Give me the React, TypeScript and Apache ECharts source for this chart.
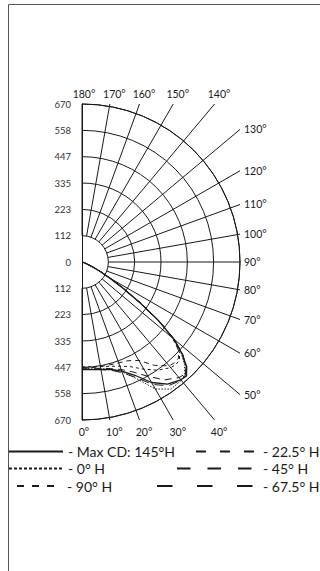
import { useEffect, useRef } from 'react';
import * as echarts from 'echarts';

// ---- data ----
const angleTicks = [0, 10, 20, 30, 40, 50, 60, 70, 80, 90, 100, 110, 120, 130, 140, 150, 160, 170, 180];
const radiusMax = 670;
const ringCount = 6;

const sampleAngles = [0, 5, 10, 15, 20, 25, 30, 35, 40, 42.5, 45, 47.5, 50, 52.5, 55, 57.5, 60, 62.5, 65, 70, 75, 80, 90];
const maxCd145 = [456, 458, 462, 472, 492, 530, 590, 632, 652, 656, 628, 575, 510, 410, 295, 200, 130, 85, 50, 15, 5, 1, 0];
const h0 = [452, 455, 460, 470, 495, 545, 622, 658, 655, 645, 615, 570, 505, 415, 300, 205, 135, 90, 55, 18, 5, 1, 0];
const h90 = [445, 446, 450, 458, 470, 490, 525, 560, 585, 590, 585, 560, 500, 410, 295, 205, 135, 88, 52, 16, 5, 1, 0];
const h22 = [450, 450, 450, 452, 455, 462, 482, 535, 575, 580, 578, 555, 505, 415, 300, 210, 140, 92, 55, 18, 6, 1, 0];
const h45 = [448, 452, 458, 468, 485, 515, 560, 610, 640, 645, 625, 580, 512, 420, 305, 212, 140, 92, 55, 18, 5, 1, 0];
const h67 = [454, 457, 463, 475, 500, 540, 600, 640, 655, 650, 622, 575, 508, 412, 298, 206, 136, 88, 52, 16, 5, 1, 0];

const seriesNames = ['Max CD: 145°H', '0° H', '90° H', '22.5° H', '45° H', '67.5° H'];
const seriesValues = [maxCd145, h0, h90, h22, h45, h67];

// ---- styles ----
const INK = '#1a1a1a';
const FONT = 'Lato, "Open Sans", sans-serif';
const chartDash: (string | number[])[] = ['solid', [1.5, 1.5], [3, 3], [5, 4], [7, 5], [9, 6]];
const chartWidth = [1.3, 1, 1, 1, 1, 1];

const legendLayout = [
  { left: 8, top: 444.5, itemWidth: 54, type: 'solid' as any, dashOffset: 0 },
  { left: 8, top: 461.5, itemWidth: 54, type: [3, 2], dashOffset: 0 },
  { left: 8, top: 479, itemWidth: 53, type: [7, 8], dashOffset: 7 },
  { left: 195, top: 444.5, itemWidth: 62, type: [10, 14], dashOffset: 0 },
  { left: 176, top: 461.5, itemWidth: 81, type: [13.5, 17], dashOffset: 0 },
  { left: 156, top: 479, itemWidth: 101, type: [15.5, 24.5], dashOffset: 0 },
];

export default function App() {
  const ref = useRef<HTMLDivElement>(null);

  useEffect(() => {
    const chart = echarts.init(ref.current!, null, { renderer: 'svg' });
    const CX = 82;
    const CY = 262;
    const R = 158;

    const lineSeries = seriesNames.map((name, i) => ({
      name,
      type: 'line',
      coordinateSystem: 'polar',
      polarIndex: 0,
      symbol: 'none',
      showSymbol: false,
      smooth: false,
      silent: true,
      data: seriesValues[i].map((v, k) => [v, sampleAngles[k]]),
      lineStyle: { color: INK, width: chartWidth[i], type: chartDash[i] },
      itemStyle: { color: INK },
      z: 5,
    }));

    const spokeSeries = {
      type: 'custom',
      coordinateSystem: 'polar',
      polarIndex: 0,
      silent: true,
      clip: false,
      data: angleTicks.map((a) => [radiusMax, a]),
      renderItem: (_params: any, api: any) => {
        const a = api.value(1) as number;
        const c = api.coord([0, a]);
        const s = api.coord([radiusMax / ringCount, a]);
        const o = api.coord([radiusMax, a]);
        const dx = o[0] - c[0];
        const dy = o[1] - c[1];
        const rr = Math.hypot(dx, dy);
        const ux = dx / rr;
        const uy = dy / rr;
        const tx = Math.abs(ux) > 1e-6 ? rr / Math.abs(ux) : Infinity;
        const ty = Math.abs(uy) > 1e-6 ? rr / Math.abs(uy) : Infinity;
        const t = Math.min(tx, ty);
        const ex = c[0] + ux * t;
        const ey = c[1] + uy * t;
        let lx: number, ly: number, align: string;
        const shift = Math.abs(ux) < 0.01 ? 2 : 4.5;
        if (tx < ty - 0.5) {
          lx = ex + 4;
          ly = ey;
          align = 'left';
        } else if (uy > 0) {
          lx = ex + shift;
          ly = ey + 12;
          align = 'center';
        } else {
          lx = ex + shift;
          ly = ey - 10;
          align = 'center';
        }
        return {
          type: 'group',
          children: [
            {
              type: 'line',
              shape: { x1: s[0], y1: s[1], x2: ex, y2: ey },
              style: { stroke: INK, lineWidth: 1 },
            },
            {
              type: 'text',
              x: lx,
              y: ly,
              style: {
                text: `${a}°`,
                fill: INK,
                fontSize: 10.5,
                fontFamily: FONT,
                align,
                verticalAlign: 'middle',
              },
            },
          ],
        };
      },
      z: 3,
    };

    const option: any = {
      animation: false,
      backgroundColor: '#fff',
      textStyle: { fontFamily: FONT },
      polar: { center: [CX, CY], radius: [0, R] },
      angleAxis: {
        type: 'value',
        min: 0,
        max: 180,
        startAngle: -90,
        endAngle: 90,
        clockwise: false,
        axisLine: { show: true, lineStyle: { color: INK, width: 1 } },
        axisTick: { show: false },
        axisLabel: { show: false },
        splitLine: { show: false },
      },
      radiusAxis: {
        type: 'value',
        min: 0,
        max: radiusMax,
        interval: radiusMax / ringCount,
        axisLine: { show: false },
        axisTick: { show: false },
        axisLabel: { show: false },
        splitLine: { show: true, lineStyle: { color: INK, width: 1 } },
      },
      grid: { left: CX, top: CY - R, width: R, height: 2 * R },
      xAxis: { type: 'value', show: false, min: 0, max: radiusMax },
      yAxis: {
        type: 'value',
        min: -radiusMax,
        max: radiusMax,
        interval: radiusMax / ringCount,
        axisLine: { show: true, lineStyle: { color: INK, width: 1 } },
        axisTick: { show: false },
        splitLine: { show: false },
        axisLabel: {
          color: '#333',
          fontSize: 9.5,
          fontFamily: FONT,
          margin: 11,
          formatter: (v: number) => String(Math.round(Math.abs(v))),
        },
      },
      legend: legendLayout.map((l, i) => ({
        data: [seriesNames[i]],
        left: l.left,
        top: l.top,
        orient: 'horizontal',
        padding: 0,
        itemWidth: l.itemWidth,
        itemHeight: 14,
        selectedMode: false,
        formatter: '- {name}',
        textStyle: { color: INK, fontSize: 14, fontFamily: FONT },
        itemStyle: { opacity: 0, borderWidth: 0 },
        lineStyle: { color: INK, width: 2, type: l.type, dashOffset: l.dashOffset },
      })),
      graphic: [
        { type: 'line', shape: { x1: 8.5, y1: 4.5, x2: 320, y2: 4.5 }, style: { stroke: '#555', lineWidth: 1 } },
        { type: 'line', shape: { x1: 8.5, y1: 4.5, x2: 8.5, y2: 571 }, style: { stroke: '#555', lineWidth: 1 } },
      ],
      series: [spokeSeries, ...lineSeries],
    };

    chart.setOption(option);
    return () => chart.dispose();
  }, []);

  return (
    <div
      ref={ref}
      style={{ position: 'fixed', left: 0, top: 0, width: 320, height: 571, background: '#fff' }}
    />
  );
}
